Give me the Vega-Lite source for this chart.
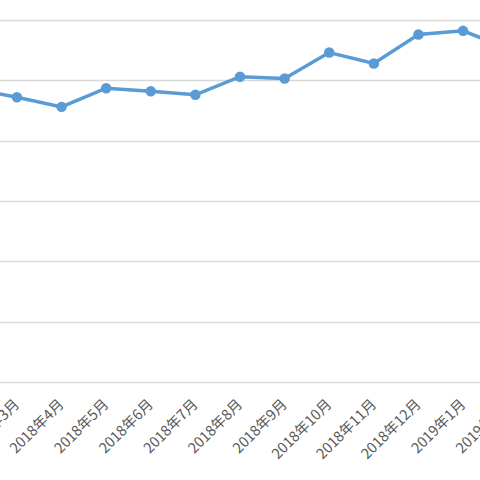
{
  "$schema": "https://vega.github.io/schema/vega-lite/v6.json",
  "autosize": {"type": "none"},
  "width": 580,
  "height": 362,
  "padding": {"left": -50, "top": 20, "right": 0, "bottom": 98},
  "background": "white",
  "config": {"view": {"stroke": null}},
  "data": {"values": [
    {"month": "2018年2月", "value": 4.86},
    {"month": "2018年3月", "value": 4.72},
    {"month": "2018年4月", "value": 4.56},
    {"month": "2018年5月", "value": 4.87},
    {"month": "2018年6月", "value": 4.82},
    {"month": "2018年7月", "value": 4.76},
    {"month": "2018年8月", "value": 5.06},
    {"month": "2018年9月", "value": 5.03},
    {"month": "2018年10月", "value": 5.46},
    {"month": "2018年11月", "value": 5.28},
    {"month": "2018年12月", "value": 5.76},
    {"month": "2019年1月", "value": 5.82},
    {"month": "2019年2月", "value": 5.53}
  ]},
  "encoding": {
    "x": {"field": "month", "type": "ordinal", "sort": null,
      "scale": {"type": "point", "padding": 0.5},
      "axis": {"title": null, "labelAngle": -45, "labelAlign": "right", "labelBaseline": "middle",
        "labelFont": "Noto Sans CJK SC", "labelFontSize": 14.5, "labelColor": "#595959",
        "ticks": false, "labelPadding": 20, "domainColor": "#d9d9d9", "domainWidth": 1.5, "grid": false}},
    "y": {"field": "value", "type": "quantitative",
      "scale": {"domain": [0, 6], "nice": false},
      "axis": {"title": null, "labels": false, "ticks": false, "domain": false,
        "values": [1, 2, 3, 4, 5, 6], "gridColor": "#d9d9d9", "gridWidth": 1.5}}
  },
  "layer": [
    {"mark": {"type": "line", "color": "#5B9BD5", "strokeWidth": 3.5}},
    {"mark": {"type": "point", "filled": true, "color": "#5B9BD5", "size": 110, "opacity": 1}}
  ]
}
